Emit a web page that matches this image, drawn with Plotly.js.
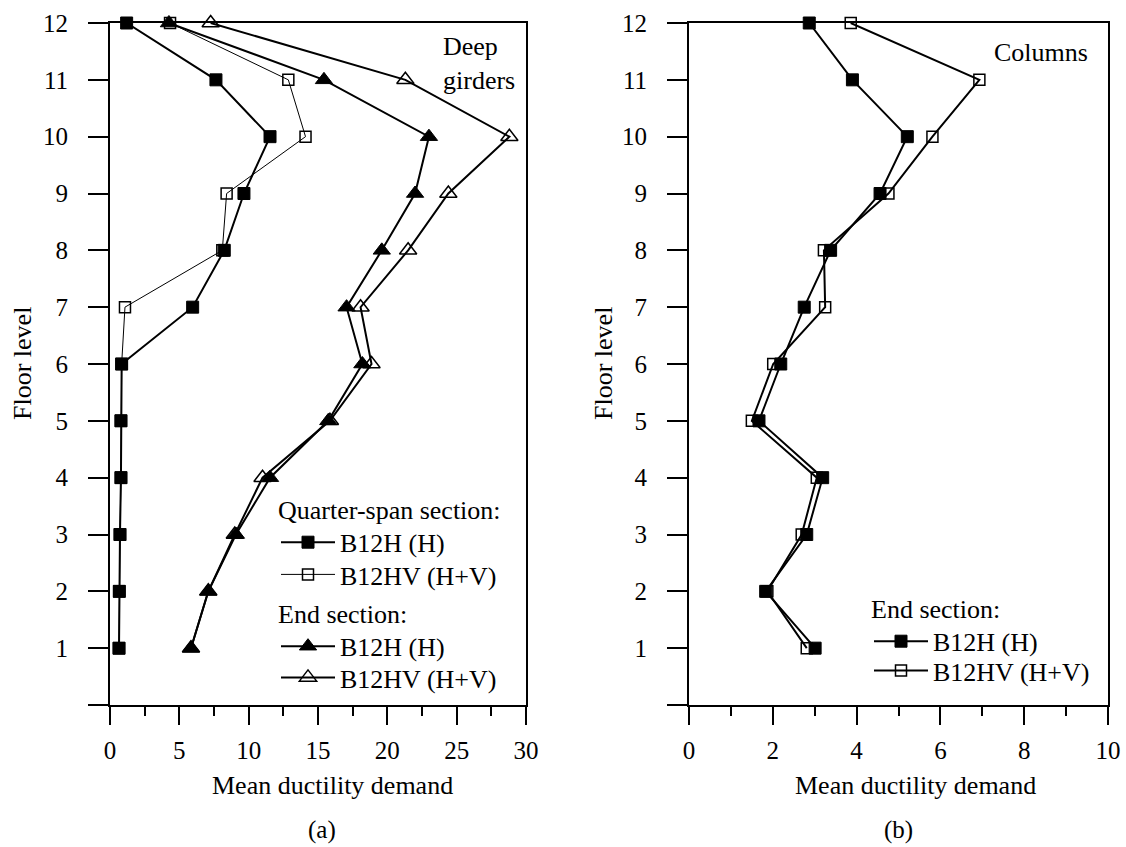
<!DOCTYPE html>
<html>
<head>
<meta charset="utf-8">
<script src="https://cdn.plot.ly/plotly-3.0.1.min.js"></script>
<style>html,body{margin:0;padding:0;background:#fff;}#chart{width:1126px;height:847px;}</style>
</head>
<body>
<div id="chart"></div>
<script>
// ---- Data ----
const floors = [1, 2, 3, 4, 5, 6, 7, 8, 9, 10, 11, 12];
// (a) Deep girders - quarter-span section
const girderQuarterH  = [0.65, 0.67, 0.72, 0.79, 0.79, 0.84, 5.96, 8.24, 9.66, 11.54, 7.64, 1.2];
const girderQuarterHV = [0.65, 0.67, 0.72, 0.79, 0.79, 0.84, 1.08, 8.1, 8.41, 14.1, 12.86, 4.33];
// (a) Deep girders - end section
const girderEndH  = [5.84, 7.09, 9.08, 11.54, 15.74, 18.2, 17.06, 19.6, 22.0, 23.0, 15.43, 4.25];
const girderEndHV = [5.84, 7.09, 9.0, 11.0, 15.86, 18.86, 18.07, 21.5, 24.4, 28.8, 21.3, 7.26];
// (b) Columns - end section
const columnEndH  = [3.01, 1.83, 2.81, 3.19, 1.67, 2.19, 2.75, 3.38, 4.56, 5.21, 3.90, 2.87];
const columnEndHV = [2.81, 1.87, 2.69, 3.05, 1.50, 2.01, 3.25, 3.22, 4.76, 5.81, 6.93, 3.86];

const seriesNames = ['B12H (H)', 'B12HV (H+V)'];
const groupTitles = ['Quarter-span section:', 'End section:'];
const yTickVals = [0, 1, 2, 3, 4, 5, 6, 7, 8, 9, 10, 11, 12];
const yTickText = ['', '1', '2', '3', '4', '5', '6', '7', '8', '9', '10', '11', '12'];
const xTicksA = [0, 5, 10, 15, 20, 25, 30];
const xTicksB = [0, 2, 4, 6, 8, 10];

// ---- Styles ----
const FONT = 'Liberation Serif, Times New Roman, serif';
const black = '#000';

function trace(x, name, xa, symbol, size, lw, legend, mlw) {
  return {
    type: 'scatter', mode: 'lines+markers', x: x, y: floors, name: name,
    xaxis: xa, yaxis: xa === 'x' ? 'y' : 'y2', legend: legend,
    cliponaxis: false, showlegend: true,
    line: {color: black, width: lw},
    marker: {symbol: symbol, size: size, color: black, line: {color: black, width: mlw}}
  };
}

const data = [
  trace(girderQuarterH,  seriesNames[0], 'x', 'square', 12, 2, 'legend', 1),
  trace(girderQuarterHV, seriesNames[1], 'x', 'square-open', 11, 1, 'legend2', 1.5),
  trace(girderEndH,  seriesNames[0], 'x', 'triangle-up', 15, 2, 'legend3', 1),
  trace(girderEndHV, seriesNames[1], 'x', 'triangle-up-open', 15, 2, 'legend4', 1.5),
  trace(columnEndH,  seriesNames[0], 'x2', 'square', 12, 2, 'legend5', 1),
  trace(columnEndHV, seriesNames[1], 'x2', 'square-open', 11, 2, 'legend6', 1.5)
];

const tickFont = {family: FONT, size: 25, color: black};
const textFont = {family: FONT, size: 26, color: black};

function xAxis(domain, range, ticks, minorDtick, anchor) {
  return {
    domain: domain, range: range, anchor: anchor,
    tickvals: ticks, ticktext: ticks.map(String),
    ticks: 'outside', ticklen: 18, tickwidth: 2, tickcolor: black,
    minor: {dtick: minorDtick, tick0: 0, ticks: 'outside', ticklen: 9, tickwidth: 2, tickcolor: black, showgrid: false},
    showline: true, linewidth: 2, linecolor: black, mirror: true,
    showgrid: false, zeroline: false, tickfont: tickFont, ticklabelstandoff: 4
  };
}
function yAxis(domain, anchor) {
  return {
    domain: domain, range: [0, 12], anchor: anchor,
    tickvals: yTickVals, ticktext: yTickText,
    ticks: 'outside', ticklen: 20, tickwidth: 2, tickcolor: black,
    showline: true, linewidth: 2, linecolor: black, mirror: true,
    showgrid: false, zeroline: false, tickfont: tickFont, ticklabelstandoff: 15
  };
}

const W = 1126, H = 847;
function legendAt(px, pyTop, title) {
  const l = {
    x: px / W, y: 1 - pyTop / H, xanchor: 'left', yanchor: 'top',
    bgcolor: 'rgba(0,0,0,0)', borderwidth: 0, font: textFont,
    itemwidth: 54, tracegroupgap: 0, visible: true
  };
  if (title) l.title = {text: title, font: textFont};
  return l;
}

const yDom = [1 - 705 / H, 1 - 23 / H];
const layout = {
  width: W, height: H,
  margin: {l: 0, r: 0, t: 0, b: 0},
  paper_bgcolor: '#fff', plot_bgcolor: '#fff',
  font: textFont,
  showlegend: true,
  xaxis: xAxis([110 / W, 526 / W], [0, 30], xTicksA, 2.5, 'y'),
  yaxis: yAxis(yDom, 'x'),
  xaxis2: xAxis([689 / W, 1108 / W], [0, 10], xTicksB, 1, 'y2'),
  yaxis2: yAxis(yDom, 'x2'),
  legend:  legendAt(276, 485, groupTitles[0]),
  legend2: legendAt(276, 551, null),
  legend3: legendAt(276, 589, groupTitles[1]),
  legend4: legendAt(276, 654, null),
  legend5: legendAt(869, 584, groupTitles[1]),
  legend6: legendAt(869, 647, null),
  annotations: [
    {text: 'Deep<br>girders', xref: 'paper', yref: 'paper', x: 517 / W, y: 1 - 30 / H,
     xanchor: 'right', yanchor: 'top', align: 'left', showarrow: false, font: textFont},
    {text: 'Columns', xref: 'paper', yref: 'paper', x: 1090 / W, y: 1 - 53 / H,
     xanchor: 'right', yanchor: 'middle', showarrow: false, font: textFont},
    {text: 'Floor level', xref: 'paper', yref: 'paper', x: 22 / W, y: 1 - 364 / H,
     xanchor: 'center', yanchor: 'middle', textangle: -90, showarrow: false, font: textFont},
    {text: 'Floor level', xref: 'paper', yref: 'paper', x: 603 / W, y: 1 - 364 / H,
     xanchor: 'center', yanchor: 'middle', textangle: -90, showarrow: false, font: textFont},
    {text: 'Mean ductility demand', xref: 'paper', yref: 'paper', x: 332 / W, y: 1 - 785 / H,
     xanchor: 'center', yanchor: 'middle', showarrow: false, font: textFont},
    {text: 'Mean ductility demand', xref: 'paper', yref: 'paper', x: 915 / W, y: 1 - 785 / H,
     xanchor: 'center', yanchor: 'middle', showarrow: false, font: textFont},
    {text: '(a)', xref: 'paper', yref: 'paper', x: 322 / W, y: 1 - 830 / H,
     xanchor: 'center', yanchor: 'middle', showarrow: false, font: tickFont},
    {text: '(b)', xref: 'paper', yref: 'paper', x: 898 / W, y: 1 - 830 / H,
     xanchor: 'center', yanchor: 'middle', showarrow: false, font: tickFont}
  ]
};

Plotly.newPlot('chart', data, layout, {displayModeBar: false, staticPlot: true});
</script>
</body>
</html>
